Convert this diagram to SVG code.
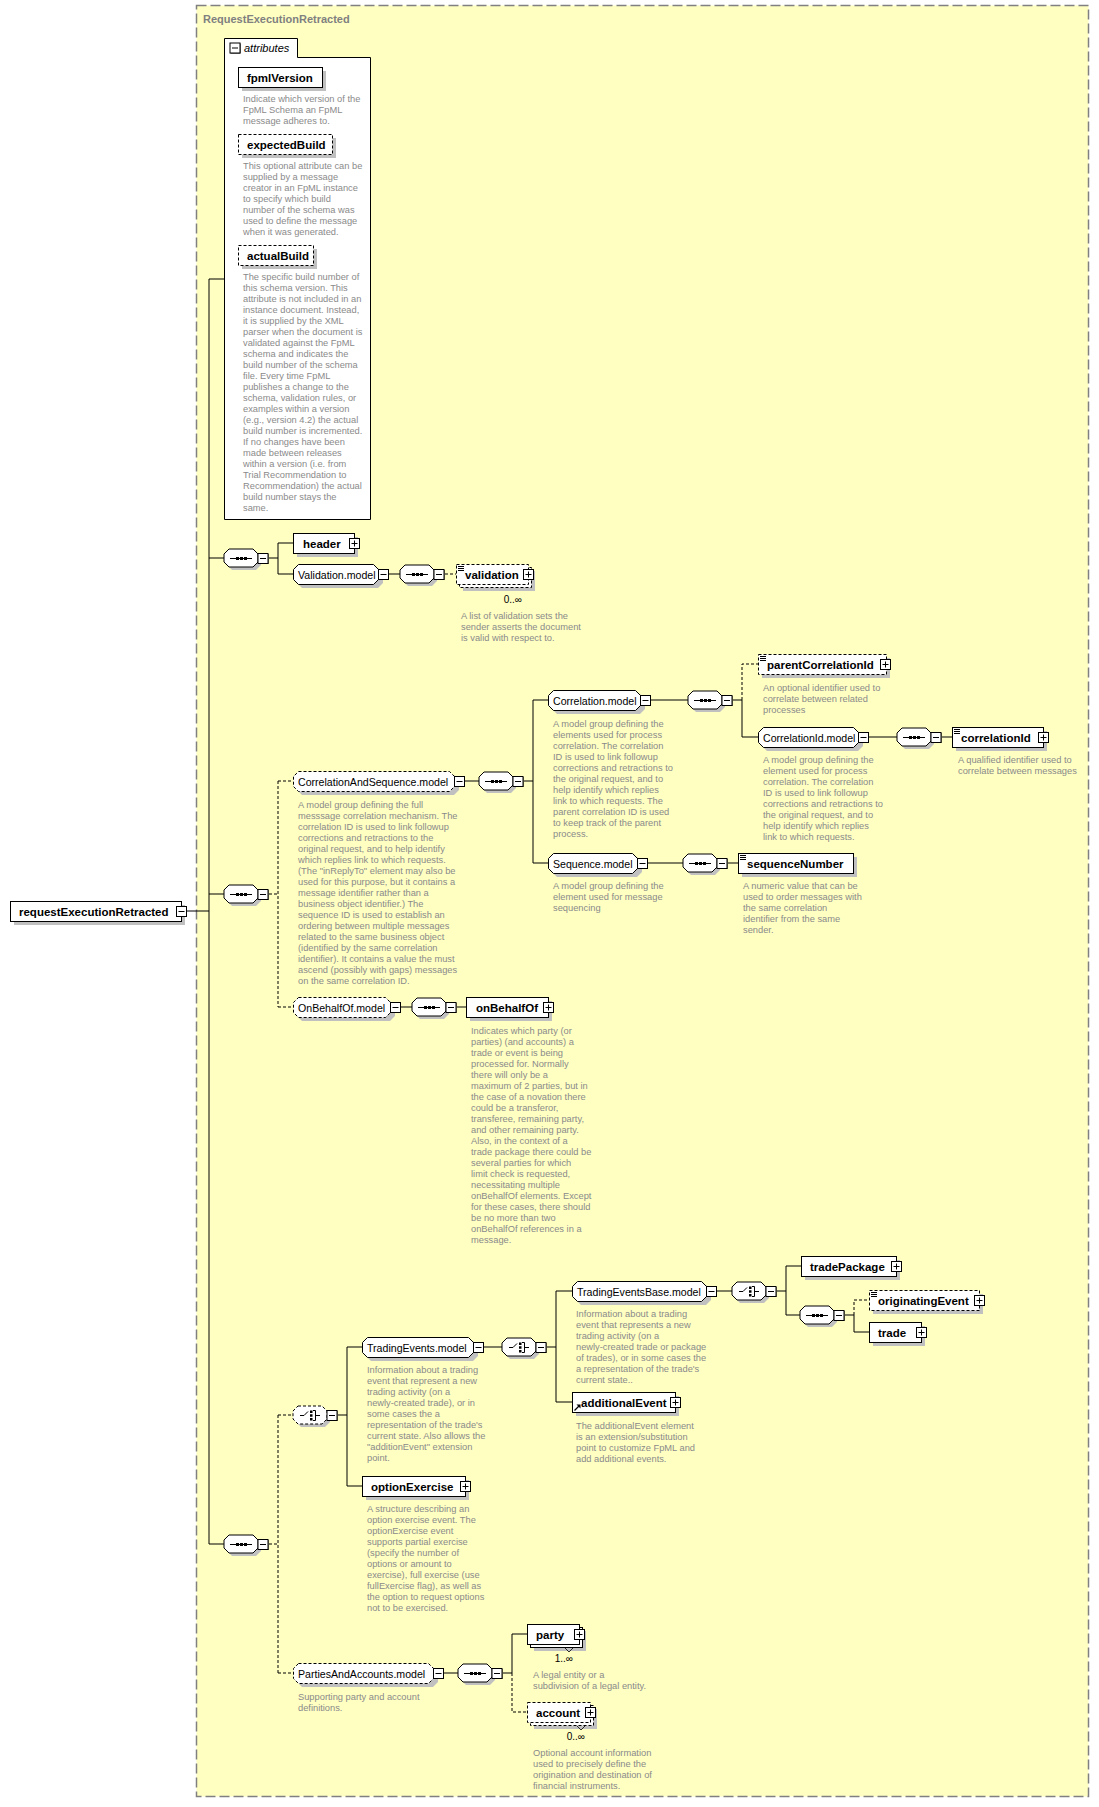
<svg xmlns="http://www.w3.org/2000/svg" xmlns:xlink="http://www.w3.org/1999/xlink" width="1099" height="1807" viewBox="0 0 1099 1807">
<style>
.bx{fill:#fff;stroke:#000;stroke-width:1}
.db{fill:#fff;stroke:#000;stroke-width:1;stroke-dasharray:3,2}
.sh{fill:#c0c0c0;stroke:none}
.ln{fill:none;stroke:#000;stroke-width:1}
.dl{fill:none;stroke:#000;stroke-width:1;stroke-dasharray:3,2}
.nm{font-family:"Liberation Sans",Arial,sans-serif;font-weight:bold;font-size:11.5px;fill:#000}
.md{font-family:"Liberation Sans",Arial,sans-serif;font-size:10.6px;fill:#000}
.ds{font-family:"Liberation Sans",Arial,sans-serif;font-size:9.3px;fill:#8a8a8a}
.oc{font-family:"Liberation Sans",Arial,sans-serif;font-size:10px;fill:#000}
.tt{font-family:"Liberation Sans",Arial,sans-serif;font-weight:bold;font-size:11px;fill:#808080}
.at{font-family:"Liberation Sans",Arial,sans-serif;font-style:italic;font-size:11px;fill:#000}
</style>
<defs>
<g id="mn"><rect x="1" y="1" width="10" height="10" fill="#000"/><rect x="0.5" y="0.5" width="10" height="10" fill="#fff" stroke="#000"/><path d="M2.5 5.5h6" stroke="#000"/></g>
<g id="pl"><rect x="1" y="1" width="10" height="10" fill="#000"/><rect x="0.5" y="0.5" width="10" height="10" fill="#fff" stroke="#000"/><path d="M2.5 5.5h6M5.5 2.5v6" stroke="#000"/></g>
<g id="cs">
<polygon points="8,-6 32,-6 37,-1 37,7 32,12 8,12 3,7 3,-1" class="sh"/>
<polygon points="5,-9 29,-9 34,-4 34,4 29,9 5,9 0,4 0,-4" class="bx"/>
<path d="M6 0.5H28" stroke="#000"/>
<rect x="12" y="-1" width="3" height="3"/><rect x="16" y="-1" width="3" height="3"/><rect x="20" y="-1" width="3" height="3"/>
<use xlink:href="#mn" href="#mn" x="33.5" y="-5"/>
</g>
<g id="ci">
<path d="M7 0.5H11L15 -3.5" fill="none" stroke="#000"/>
<rect x="17" y="-4.5" width="2.5" height="2.5"/><rect x="17" y="-0.75" width="2.5" height="2.5"/><rect x="17" y="3" width="2.5" height="2.5"/>
<path d="M20 -4.5H22.5V5.5H20M22.5 0.5H27" fill="none" stroke="#000"/>
</g>
<g id="cc">
<polygon points="8,-6 32,-6 37,-1 37,7 32,12 8,12 3,7 3,-1" class="sh"/>
<polygon points="5,-9 29,-9 34,-4 34,4 29,9 5,9 0,4 0,-4" class="bx"/>
<use xlink:href="#ci" href="#ci"/>
<use xlink:href="#mn" href="#mn" x="33.5" y="-5"/>
</g>
<g id="cco">
<polygon points="8,-6 32,-6 37,-1 37,7 32,12 8,12 3,7 3,-1" class="sh"/>
<polygon points="5,-9 29,-9 34,-4 34,4 29,9 5,9 0,4 0,-4" class="db"/>
<use xlink:href="#ci" href="#ci"/>
<use xlink:href="#mn" href="#mn" x="33.5" y="-5"/>
</g>
<path id="ico" d="M2 2.5h6M2 4.5h6M2 6.5h6" stroke="#000" stroke-width="1"/>
</defs>

<rect x="196.5" y="5.5" width="892" height="1791" fill="#FFFFC2" stroke="#808080" stroke-width="1.5" stroke-dasharray="10,4"/>
<text class="tt" x="203" y="23">RequestExecutionRetracted</text>

<g id="connectors">
<path class="ln" d="M186 911H209M209 279V1544M209 279H224M209 558H224M209 894H224M209 1544H224M269 558H278M278 543V574M278 543H293M278 574H293M389 574H400M465 781H479M524 781H533M533 700V863M533 700H548M533 863H548M651 700H688M733 700H742M742 700V737H758M869 737H897M942 737H952M648 863H683M728 863H738M401 1007H412M457 1007H466M338 1415H347M347 1347V1486M347 1347H362M347 1486H362M484 1347H502M547 1347H556M556 1291V1402M556 1291H572M556 1402H572M717 1291H732M777 1291H786M786 1266V1315M786 1266H801M786 1315H800M845 1315H854M854 1315V1332H869M444 1673H458M503 1673H512M512 1634V1673M512 1634H527"/>
<path class="dl" d="M445 574H456M269 894H278M278 781V1007M278 781H293M278 1007H293M742 700V664H758M269 1544H278M278 1415V1673M278 1415H293M278 1673H293M854 1315V1300H869M512 1673V1712H527"/>
</g>

<g id="attributes">
<path d="M224.5 519.5V38.5H297.5V57.5H370.5V519.5Z" fill="#fff" stroke="#000"/>
<use xlink:href="#mn" href="#mn" x="229.5" y="42.5"/>
<text class="at" x="244" y="52">attributes</text>
</g>

<g id="n-fpmlVersion">
<rect class="sh" x="242" y="71" width="84" height="20"/>
<rect class="bx" x="238.5" y="67.5" width="84" height="20"/>
<text class="nm" x="247" y="81.5">fpmlVersion</text>
<text class="ds" x="243" y="102"><tspan x="243" dy="0">Indicate which version of the</tspan><tspan x="243" dy="11">FpML Schema an FpML</tspan><tspan x="243" dy="11">message adheres to.</tspan></text>
</g>

<g id="n-expectedBuild">
<rect class="sh" x="242" y="138" width="94" height="20"/>
<rect class="db" x="238.5" y="134.5" width="94" height="20"/>
<text class="nm" x="247" y="148.5">expectedBuild</text>
<text class="ds" x="243" y="169"><tspan x="243" dy="0">This optional attribute can be</tspan><tspan x="243" dy="11">supplied by a message</tspan><tspan x="243" dy="11">creator in an FpML instance</tspan><tspan x="243" dy="11">to specify which build</tspan><tspan x="243" dy="11">number of the schema was</tspan><tspan x="243" dy="11">used to define the message</tspan><tspan x="243" dy="11">when it was generated.</tspan></text>
</g>

<g id="n-actualBuild">
<rect class="sh" x="242" y="249" width="75" height="20"/>
<rect class="db" x="238.5" y="245.5" width="75" height="20"/>
<text class="nm" x="247" y="259.5">actualBuild</text>
<text class="ds" x="243" y="280"><tspan x="243" dy="0">The specific build number of</tspan><tspan x="243" dy="11">this schema version. This</tspan><tspan x="243" dy="11">attribute is not included in an</tspan><tspan x="243" dy="11">instance document. Instead,</tspan><tspan x="243" dy="11">it is supplied by the XML</tspan><tspan x="243" dy="11">parser when the document is</tspan><tspan x="243" dy="11">validated against the FpML</tspan><tspan x="243" dy="11">schema and indicates the</tspan><tspan x="243" dy="11">build number of the schema</tspan><tspan x="243" dy="11">file. Every time FpML</tspan><tspan x="243" dy="11">publishes a change to the</tspan><tspan x="243" dy="11">schema, validation rules, or</tspan><tspan x="243" dy="11">examples within a version</tspan><tspan x="243" dy="11">(e.g., version 4.2) the actual</tspan><tspan x="243" dy="11">build number is incremented.</tspan><tspan x="243" dy="11">If no changes have been</tspan><tspan x="243" dy="11">made between releases</tspan><tspan x="243" dy="11">within a version (i.e. from</tspan><tspan x="243" dy="11">Trial Recommendation to</tspan><tspan x="243" dy="11">Recommendation) the actual</tspan><tspan x="243" dy="11">build number stays the</tspan><tspan x="243" dy="11">same.</tspan></text>
</g>

<g id="n-requestExecutionRetracted">
<rect class="sh" x="14" y="905" width="171" height="20"/>
<rect class="bx" x="10.5" y="901.5" width="171" height="20"/>
<text class="nm" x="19" y="915.5">requestExecutionRetracted</text>
<use xlink:href="#mn" href="#mn" x="176" y="906"/>
</g>

<g id="c-seq1"><use xlink:href="#cs" href="#cs" x="224" y="558"/></g>

<g id="n-header">
<rect class="sh" x="297" y="537" width="61" height="20"/>
<rect class="bx" x="293.5" y="533.5" width="61" height="20"/>
<text class="nm" x="303" y="547.5">header</text>
<use xlink:href="#pl" href="#pl" x="349" y="538"/>
</g>

<g id="n-Validation.model">
<polygon class="sh" points="302,568 378,568 383,573 383,583 378,588 302,588 297,583 297,573"/>
<polygon class="bx" points="298.5,564.5 373.5,564.5 378.5,569.5 378.5,579.5 373.5,584.5 298.5,584.5 293.5,579.5 293.5,569.5"/>
<text class="md" x="298" y="578.5">Validation.model</text>
<use xlink:href="#mn" href="#mn" x="378" y="569"/>
</g>

<g id="c-seq-validation"><use xlink:href="#cs" href="#cs" x="400" y="574"/></g>

<g id="n-validation">
<rect class="sh" x="463" y="571" width="72" height="20"/>
<rect class="db" x="459.5" y="567.5" width="72" height="20"/>
<rect class="db" x="456.5" y="564.5" width="72" height="20"/>
<use xlink:href="#ico" href="#ico" x="456" y="564"/>
<text class="nm" x="465" y="578.5">validation</text>
<use xlink:href="#pl" href="#pl" x="523" y="569"/>
<text class="oc" x="522" y="603" text-anchor="end">0..∞</text>
<text class="ds" x="461" y="618.5"><tspan x="461" dy="0">A list of validation sets the</tspan><tspan x="461" dy="11">sender asserts the document</tspan><tspan x="461" dy="11">is valid with respect to.</tspan></text>
</g>

<g id="c-seq2"><use xlink:href="#cs" href="#cs" x="224" y="894"/></g>

<g id="n-CorrelationAndSequence.model">
<polygon class="sh" points="302,775 454,775 459,780 459,790 454,795 302,795 297,790 297,780"/>
<polygon class="db" points="298.5,771.5 449.5,771.5 454.5,776.5 454.5,786.5 449.5,791.5 298.5,791.5 293.5,786.5 293.5,776.5"/>
<text class="md" x="298" y="785.5">CorrelationAndSequence.model</text>
<use xlink:href="#mn" href="#mn" x="454" y="776"/>
<text class="ds" x="298" y="807.5"><tspan x="298" dy="0">A model group defining the full</tspan><tspan x="298" dy="11">messsage correlation mechanism. The</tspan><tspan x="298" dy="11">correlation ID is used to link followup</tspan><tspan x="298" dy="11">corrections and retractions to the</tspan><tspan x="298" dy="11">original request, and to help identify</tspan><tspan x="298" dy="11">which replies link to which requests.</tspan><tspan x="298" dy="11">(The "inReplyTo" element may also be</tspan><tspan x="298" dy="11">used for this purpose, but it contains a</tspan><tspan x="298" dy="11">message identifier rather than a</tspan><tspan x="298" dy="11">business object identifier.) The</tspan><tspan x="298" dy="11">sequence ID is used to establish an</tspan><tspan x="298" dy="11">ordering between multiple messages</tspan><tspan x="298" dy="11">related to the same business object</tspan><tspan x="298" dy="11">(identified by the same correlation</tspan><tspan x="298" dy="11">identifier). It contains a value the must</tspan><tspan x="298" dy="11">ascend (possibly with gaps) messages</tspan><tspan x="298" dy="11">on the same correlation ID.</tspan></text>
</g>

<g id="c-seq-cs"><use xlink:href="#cs" href="#cs" x="479" y="781"/></g>

<g id="n-Correlation.model">
<polygon class="sh" points="557,694 640,694 645,699 645,709 640,714 557,714 552,709 552,699"/>
<polygon class="bx" points="553.5,690.5 635.5,690.5 640.5,695.5 640.5,705.5 635.5,710.5 553.5,710.5 548.5,705.5 548.5,695.5"/>
<text class="md" x="553" y="704.5">Correlation.model</text>
<use xlink:href="#mn" href="#mn" x="640" y="695"/>
<text class="ds" x="553" y="726.5"><tspan x="553" dy="0">A model group defining the</tspan><tspan x="553" dy="11">elements used for process</tspan><tspan x="553" dy="11">correlation. The correlation</tspan><tspan x="553" dy="11">ID is used to link followup</tspan><tspan x="553" dy="11">corrections and retractions to</tspan><tspan x="553" dy="11">the original request, and to</tspan><tspan x="553" dy="11">help identify which replies</tspan><tspan x="553" dy="11">link to which requests. The</tspan><tspan x="553" dy="11">parent correlation ID is used</tspan><tspan x="553" dy="11">to keep track of the parent</tspan><tspan x="553" dy="11">process.</tspan></text>
</g>

<g id="c-seq-corr"><use xlink:href="#cs" href="#cs" x="688" y="700"/></g>

<g id="n-parentCorrelationId">
<rect class="sh" x="762" y="658" width="128" height="20"/>
<rect class="db" x="758.5" y="654.5" width="128" height="20"/>
<use xlink:href="#ico" href="#ico" x="758" y="654"/>
<text class="nm" x="767" y="668.5">parentCorrelationId</text>
<use xlink:href="#pl" href="#pl" x="880" y="659"/>
<text class="ds" x="763" y="690.5"><tspan x="763" dy="0">An optional identifier used to</tspan><tspan x="763" dy="11">correlate between related</tspan><tspan x="763" dy="11">processes</tspan></text>
</g>

<g id="n-CorrelationId.model">
<polygon class="sh" points="767,731 858,731 863,736 863,746 858,751 767,751 762,746 762,736"/>
<polygon class="bx" points="763.5,727.5 853.5,727.5 858.5,732.5 858.5,742.5 853.5,747.5 763.5,747.5 758.5,742.5 758.5,732.5"/>
<text class="md" x="763" y="741.5">CorrelationId.model</text>
<use xlink:href="#mn" href="#mn" x="858" y="732"/>
<text class="ds" x="763" y="762.5"><tspan x="763" dy="0">A model group defining the</tspan><tspan x="763" dy="11">element used for process</tspan><tspan x="763" dy="11">correlation. The correlation</tspan><tspan x="763" dy="11">ID is used to link followup</tspan><tspan x="763" dy="11">corrections and retractions to</tspan><tspan x="763" dy="11">the original request, and to</tspan><tspan x="763" dy="11">help identify which replies</tspan><tspan x="763" dy="11">link to which requests.</tspan></text>
</g>

<g id="c-seq-corrid"><use xlink:href="#cs" href="#cs" x="897" y="737"/></g>

<g id="n-correlationId">
<rect class="sh" x="956" y="731" width="91" height="20"/>
<rect class="bx" x="952.5" y="727.5" width="91" height="20"/>
<use xlink:href="#ico" href="#ico" x="952" y="727"/>
<text class="nm" x="961" y="741.5">correlationId</text>
<use xlink:href="#pl" href="#pl" x="1038" y="732"/>
<text class="ds" x="958" y="762.5"><tspan x="958" dy="0">A qualified identifier used to</tspan><tspan x="958" dy="11">correlate between messages</tspan></text>
</g>

<g id="n-Sequence.model">
<polygon class="sh" points="557,857 637,857 642,862 642,872 637,877 557,877 552,872 552,862"/>
<polygon class="bx" points="553.5,853.5 632.5,853.5 637.5,858.5 637.5,868.5 632.5,873.5 553.5,873.5 548.5,868.5 548.5,858.5"/>
<text class="md" x="553" y="867.5">Sequence.model</text>
<use xlink:href="#mn" href="#mn" x="637" y="858"/>
<text class="ds" x="553" y="889"><tspan x="553" dy="0">A model group defining the</tspan><tspan x="553" dy="11">element used for message</tspan><tspan x="553" dy="11">sequencing</tspan></text>
</g>

<g id="c-seq-seq"><use xlink:href="#cs" href="#cs" x="683" y="863"/></g>

<g id="n-sequenceNumber">
<rect class="sh" x="742" y="857" width="115" height="20"/>
<rect class="bx" x="738.5" y="853.5" width="115" height="20"/>
<use xlink:href="#ico" href="#ico" x="738" y="853"/>
<text class="nm" x="747" y="867.5">sequenceNumber</text>
<text class="ds" x="743" y="889"><tspan x="743" dy="0">A numeric value that can be</tspan><tspan x="743" dy="11">used to order messages with</tspan><tspan x="743" dy="11">the same correlation</tspan><tspan x="743" dy="11">identifier from the same</tspan><tspan x="743" dy="11">sender.</tspan></text>
</g>

<g id="n-OnBehalfOf.model">
<polygon class="sh" points="302,1001 390,1001 395,1006 395,1016 390,1021 302,1021 297,1016 297,1006"/>
<polygon class="db" points="298.5,997.5 385.5,997.5 390.5,1002.5 390.5,1012.5 385.5,1017.5 298.5,1017.5 293.5,1012.5 293.5,1002.5"/>
<text class="md" x="298" y="1011.5">OnBehalfOf.model</text>
<use xlink:href="#mn" href="#mn" x="390" y="1002"/>
</g>

<g id="c-seq-obo"><use xlink:href="#cs" href="#cs" x="412" y="1007"/></g>

<g id="n-onBehalfOf">
<rect class="sh" x="470" y="1001" width="82" height="20"/>
<rect class="bx" x="466.5" y="997.5" width="82" height="20"/>
<text class="nm" x="476" y="1011.5">onBehalfOf</text>
<use xlink:href="#pl" href="#pl" x="543" y="1002"/>
<text class="ds" x="471" y="1033.5"><tspan x="471" dy="0">Indicates which party (or</tspan><tspan x="471" dy="11">parties) (and accounts) a</tspan><tspan x="471" dy="11">trade or event is being</tspan><tspan x="471" dy="11">processed for. Normally</tspan><tspan x="471" dy="11">there will only be a</tspan><tspan x="471" dy="11">maximum of 2 parties, but in</tspan><tspan x="471" dy="11">the case of a novation there</tspan><tspan x="471" dy="11">could be a transferor,</tspan><tspan x="471" dy="11">transferee, remaining party,</tspan><tspan x="471" dy="11">and other remaining party.</tspan><tspan x="471" dy="11">Also, in the context of a</tspan><tspan x="471" dy="11">trade package there could be</tspan><tspan x="471" dy="11">several parties for which</tspan><tspan x="471" dy="11">limit check is requested,</tspan><tspan x="471" dy="11">necessitating multiple</tspan><tspan x="471" dy="11">onBehalfOf elements. Except</tspan><tspan x="471" dy="11">for these cases, there should</tspan><tspan x="471" dy="11">be no more than two</tspan><tspan x="471" dy="11">onBehalfOf references in a</tspan><tspan x="471" dy="11">message.</tspan></text>
</g>

<g id="c-seq3"><use xlink:href="#cs" href="#cs" x="224" y="1544"/></g>
<g id="c-choice1"><use xlink:href="#cco" href="#cco" x="293" y="1415"/></g>

<g id="n-TradingEvents.model">
<polygon class="sh" points="371,1341 473,1341 478,1346 478,1356 473,1361 371,1361 366,1356 366,1346"/>
<polygon class="bx" points="367.5,1337.5 468.5,1337.5 473.5,1342.5 473.5,1352.5 468.5,1357.5 367.5,1357.5 362.5,1352.5 362.5,1342.5"/>
<text class="md" x="367" y="1351.5">TradingEvents.model</text>
<use xlink:href="#mn" href="#mn" x="473" y="1342"/>
<text class="ds" x="367" y="1372.5"><tspan x="367" dy="0">Information about a trading</tspan><tspan x="367" dy="11">event that represent a new</tspan><tspan x="367" dy="11">trading activity (on a</tspan><tspan x="367" dy="11">newly-created trade), or in</tspan><tspan x="367" dy="11">some cases the a</tspan><tspan x="367" dy="11">representation of the trade's</tspan><tspan x="367" dy="11">current state. Also allows the</tspan><tspan x="367" dy="11">"additionEvent" extension</tspan><tspan x="367" dy="11">point.</tspan></text>
</g>

<g id="c-choice2"><use xlink:href="#cc" href="#cc" x="502" y="1347"/></g>

<g id="n-TradingEventsBase.model">
<polygon class="sh" points="581,1285 706,1285 711,1290 711,1300 706,1305 581,1305 576,1300 576,1290"/>
<polygon class="bx" points="577.5,1281.5 701.5,1281.5 706.5,1286.5 706.5,1296.5 701.5,1301.5 577.5,1301.5 572.5,1296.5 572.5,1286.5"/>
<text class="md" x="577" y="1295.5">TradingEventsBase.model</text>
<use xlink:href="#mn" href="#mn" x="706" y="1286"/>
<text class="ds" x="576" y="1316.5"><tspan x="576" dy="0">Information about a trading</tspan><tspan x="576" dy="11">event that represents a new</tspan><tspan x="576" dy="11">trading activity (on a</tspan><tspan x="576" dy="11">newly-created trade or package</tspan><tspan x="576" dy="11">of trades), or in some cases the</tspan><tspan x="576" dy="11">a representation of the trade's</tspan><tspan x="576" dy="11">current state..</tspan></text>
</g>

<g id="c-choice3"><use xlink:href="#cc" href="#cc" x="732" y="1291"/></g>

<g id="n-tradePackage">
<rect class="sh" x="805" y="1260" width="95" height="20"/>
<rect class="bx" x="801.5" y="1256.5" width="95" height="20"/>
<text class="nm" x="810" y="1270.5">tradePackage</text>
<use xlink:href="#pl" href="#pl" x="891" y="1261"/>
</g>

<g id="c-seq-trade"><use xlink:href="#cs" href="#cs" x="800" y="1315"/></g>

<g id="n-originatingEvent">
<rect class="sh" x="873" y="1294" width="110" height="20"/>
<rect class="db" x="869.5" y="1290.5" width="110" height="20"/>
<use xlink:href="#ico" href="#ico" x="869" y="1290"/>
<text class="nm" x="878" y="1304.5">originatingEvent</text>
<use xlink:href="#pl" href="#pl" x="974" y="1295"/>
</g>

<g id="n-trade">
<rect class="sh" x="873" y="1326" width="52" height="20"/>
<rect class="bx" x="869.5" y="1322.5" width="52" height="20"/>
<text class="nm" x="878" y="1336.5">trade</text>
<use xlink:href="#pl" href="#pl" x="916" y="1327"/>
</g>

<g id="n-additionalEvent">
<rect class="sh" x="576" y="1396" width="103" height="20"/>
<rect class="bx" x="572.5" y="1392.5" width="103" height="20"/>
<path d="M574.5 1410.5L579 1406" stroke="#000" stroke-width="1.3"/>
<polygon points="580.5,1404.5 580.5,1408.5 576.5,1404.5"/>
<text class="nm" x="581" y="1406.5">additionalEvent</text>
<use xlink:href="#pl" href="#pl" x="670" y="1397"/>
<text class="ds" x="576" y="1428.5"><tspan x="576" dy="0">The additionalEvent element</tspan><tspan x="576" dy="11">is an extension/substitution</tspan><tspan x="576" dy="11">point to customize FpML and</tspan><tspan x="576" dy="11">add additional events.</tspan></text>
</g>

<g id="n-optionExercise">
<rect class="sh" x="366" y="1480" width="103" height="20"/>
<rect class="bx" x="362.5" y="1476.5" width="103" height="20"/>
<text class="nm" x="371" y="1490.5">optionExercise</text>
<use xlink:href="#pl" href="#pl" x="460" y="1481"/>
<text class="ds" x="367" y="1511.5"><tspan x="367" dy="0">A structure describing an</tspan><tspan x="367" dy="11">option exercise event. The</tspan><tspan x="367" dy="11">optionExercise event</tspan><tspan x="367" dy="11">supports partial exercise</tspan><tspan x="367" dy="11">(specify the number of</tspan><tspan x="367" dy="11">options or amount to</tspan><tspan x="367" dy="11">exercise), full exercise (use</tspan><tspan x="367" dy="11">fullExercise flag), as well as</tspan><tspan x="367" dy="11">the option to request options</tspan><tspan x="367" dy="11">not to be exercised.</tspan></text>
</g>

<g id="n-PartiesAndAccounts.model">
<polygon class="sh" points="302,1667 433,1667 438,1672 438,1682 433,1687 302,1687 297,1682 297,1672"/>
<polygon class="db" points="298.5,1663.5 428.5,1663.5 433.5,1668.5 433.5,1678.5 428.5,1683.5 298.5,1683.5 293.5,1678.5 293.5,1668.5"/>
<text class="md" x="298" y="1677.5">PartiesAndAccounts.model</text>
<use xlink:href="#mn" href="#mn" x="433" y="1668"/>
<text class="ds" x="298" y="1699.5"><tspan x="298" dy="0">Supporting party and account</tspan><tspan x="298" dy="11">definitions.</tspan></text>
</g>

<g id="c-seq-pa"><use xlink:href="#cs" href="#cs" x="458" y="1673"/></g>

<g id="n-party">
<rect class="sh" x="534" y="1631" width="52" height="20"/>
<rect class="bx" x="530.5" y="1627.5" width="52" height="20"/>
<rect class="bx" x="527.5" y="1624.5" width="52" height="20"/>
<text class="nm" x="536" y="1638.5">party</text>
<use xlink:href="#pl" href="#pl" x="574" y="1629"/>
<path d="M565 1648l4 4 4-4" fill="none" stroke="#000" stroke-width="0.8"/>
<text class="oc" x="573" y="1662" text-anchor="end">1..∞</text>
<text class="ds" x="533" y="1677.5"><tspan x="533" dy="0">A legal entity or a</tspan><tspan x="533" dy="11">subdivision of a legal entity.</tspan></text>
</g>

<g id="n-account">
<rect class="sh" x="534" y="1709" width="63" height="20"/>
<rect class="db" x="530.5" y="1705.5" width="63" height="20"/>
<rect class="db" x="527.5" y="1702.5" width="63" height="20"/>
<text class="nm" x="536" y="1716.5">account</text>
<use xlink:href="#pl" href="#pl" x="585" y="1707"/>
<path d="M577 1726l4 4 4-4" fill="none" stroke="#000" stroke-width="0.8"/>
<text class="oc" x="585" y="1740" text-anchor="end">0..∞</text>
<text class="ds" x="533" y="1755.5"><tspan x="533" dy="0">Optional account information</tspan><tspan x="533" dy="11">used to precisely define the</tspan><tspan x="533" dy="11">origination and destination of</tspan><tspan x="533" dy="11">financial instruments.</tspan></text>
</g>
</svg>
